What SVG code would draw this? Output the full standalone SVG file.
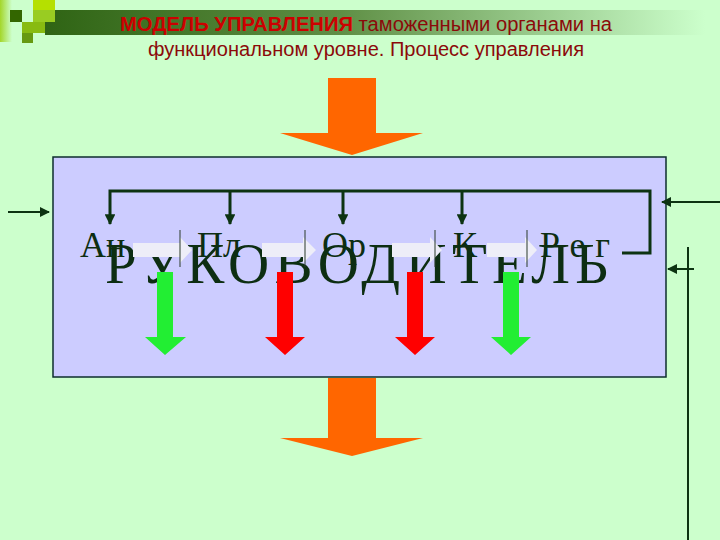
<svg xmlns="http://www.w3.org/2000/svg" width="720" height="540" viewBox="0 0 720 540">
<defs>
<linearGradient id="band" x1="0" y1="0" x2="1" y2="0">
<stop offset="0" stop-color="#2f6414"/>
<stop offset="0.45" stop-color="#5f8f45"/>
<stop offset="1" stop-color="#ccffcc"/>
</linearGradient>
<linearGradient id="sq" x1="0" y1="0" x2="1" y2="0">
<stop offset="0" stop-color="#99cc00"/>
<stop offset="1" stop-color="#ccffcc"/>
</linearGradient>
<marker id="ah" viewBox="0 0 10 10" refX="9" refY="5" markerWidth="4" markerHeight="3.6" orient="auto" markerUnits="strokeWidth">
<path d="M0,0 L10,5 L0,10 z" fill="#0d3312"/>
</marker>
<marker id="ahs" viewBox="0 0 10 10" refX="9" refY="5" markerWidth="5" markerHeight="5" orient="auto" markerUnits="strokeWidth">
<path d="M0,0 L10,5 L0,10 z" fill="#0d3312"/>
</marker>
</defs>
<style>
.big{font-family:"Liberation Serif","Times New Roman",serif;fill:#0d2e12}
.sm{font-family:"Liberation Serif","Times New Roman",serif;fill:#0d2e12;font-size:36px}
.ttl{font-family:"Liberation Sans",Arial,sans-serif;font-size:20px;fill:#8b0a0a}
.conn{fill:none;stroke:#0d3312;stroke-width:3}
.ext{fill:none;stroke:#0d3312;stroke-width:2}
.wa{fill:#eeeef8}
.sep{stroke:#2a3a2a;stroke-width:1}
.orange{fill:#ff6600}
.green{fill:#22ee33}
.red{fill:#ff0000}
</style>
<rect width="720" height="540" fill="#ccffcc"/>
<g id="decor">
<rect x="45" y="10" width="660" height="25" fill="url(#band)"/>
<rect x="0" y="0" width="12" height="42" fill="url(#sq)" opacity="0.8"/>
<rect x="10" y="10" width="12" height="12" fill="#336600"/>
<rect x="33" y="0" width="22" height="10" fill="#b5e000"/>
<rect x="33" y="10" width="22" height="12" fill="#99cc22"/>
<rect x="22" y="22" width="23" height="11" fill="#88bb11"/>
<rect x="22" y="33" width="11" height="10" fill="#669911"/>
</g>
<g id="title">
<text class="ttl" x="366" y="31" text-anchor="middle" textLength="492" lengthAdjust="spacingAndGlyphs"><tspan font-weight="bold" fill="#cc0000">МОДЕЛЬ УПРАВЛЕНИЯ</tspan> таможенными органами на</text>
<text class="ttl" x="366" y="56" text-anchor="middle" textLength="436" lengthAdjust="spacingAndGlyphs">функциональном уровне. Процесс управления</text>
</g>
<g id="arrow-in">
<polygon class="orange" points="328,78 376,78 376,133 423,133 352,155 280,133 328,133"/>
</g>
<g id="box">
<rect x="53" y="157" width="613" height="220" fill="#ccccff" stroke="#0d2e2e" stroke-width="1.5"/>
</g>
<g id="arrow-out">
<polygon class="orange" points="328,378 376,378 376,438 423,438 352,456 280,438 328,438"/>
</g>
<g id="leader">
<text class="big" x="105" y="283" font-size="57" textLength="503" lengthAdjust="spacing">РУКОВОДИТЕЛЬ</text>
</g>
<g id="func-an"><text class="sm" x="80" y="257">Ан</text></g>
<g id="func-pl"><text class="sm" x="197" y="257">Пл</text></g>
<g id="func-or"><text class="sm" x="322" y="257">Ор</text></g>
<g id="func-k"><text class="sm" x="453" y="257">К</text></g>
<g id="func-reg"><text class="sm" x="540" y="257" textLength="70" lengthAdjust="spacing">Рег</text></g>
<g id="flow-arrows">
<polygon class="wa" points="133,243 180,243 180,237 192,250 180,263 180,257 133,257"/>
<polygon class="wa" points="262,243 303,243 303,237 316,250 303,263 303,257 262,257"/>
<polygon class="wa" points="392,243 430,243 430,237 442,250 430,263 430,257 392,257"/>
<polygon class="wa" points="487,243 525,243 525,237 537,250 525,263 525,257 487,257"/>
<line class="sep" x1="180" y1="230" x2="180" y2="267"/>
<line class="sep" x1="305" y1="230" x2="305" y2="267"/>
<line class="sep" x1="435" y1="230" x2="435" y2="267"/>
<line class="sep" x1="527" y1="230" x2="527" y2="267"/>
</g>
<g id="outputs">
<polygon class="green" points="157,272 173,272 173,337 186,337 165,355 145,337 157,337"/>
<polygon class="red" points="277,272 293,272 293,337 305,337 285,355 265,337 277,337"/>
<polygon class="red" points="407,272 423,272 423,337 435,337 415,355 395,337 407,337"/>
<polygon class="green" points="503,272 519,272 519,337 531,337 511,355 491,337 503,337"/>
</g>
<g id="connectors">
<polyline class="conn" points="622,253 650,253 650,191 110,191 110,224" marker-end="url(#ah)"/>
<line class="conn" x1="230" y1="191" x2="230" y2="224" marker-end="url(#ah)"/>
<line class="conn" x1="343" y1="191" x2="343" y2="224" marker-end="url(#ah)"/>
<line class="conn" x1="462" y1="191" x2="462" y2="224" marker-end="url(#ah)"/>
<line class="ext" x1="8" y1="212" x2="49" y2="212" marker-end="url(#ahs)"/>
<line class="ext" x1="720" y1="202" x2="662" y2="202" marker-end="url(#ahs)"/>
<line class="ext" x1="694" y1="269" x2="668" y2="269" marker-end="url(#ahs)" stroke-width="1.5"/>
<line class="ext" x1="688" y1="247" x2="688" y2="540" stroke-width="1.5"/>
</g>
</svg>
